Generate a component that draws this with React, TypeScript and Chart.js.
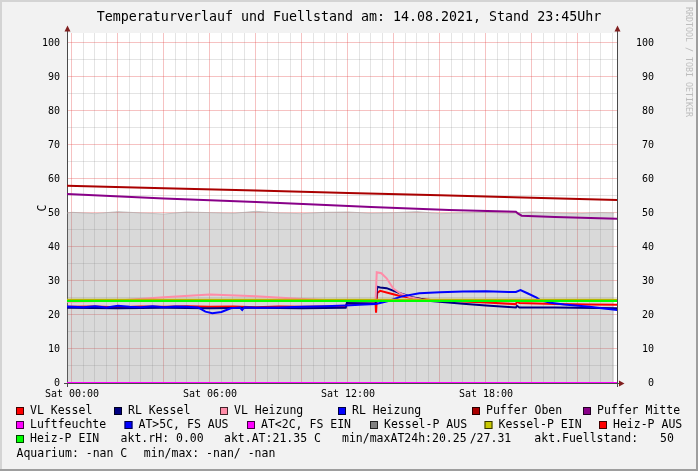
import React, { useEffect, useRef } from 'react';
import { Chart, registerables } from 'chart.js';

Chart.register(...registerables);

// ---------- texts ----------
const TITLE = 'Temperaturverlauf und Fuellstand am: 14.08.2021, Stand 23:45Uhr';
const Y_TITLE = 'C';
const WATERMARK = 'RRDTOOL / TOBI OETIKER';

// ---------- axes ----------
const X_MIN = -0.217; // hours relative to Sat 00:00
const X_MAX = 23.696;
const Y_MIN = 0;
const Y_MAX = 102.94;
const xLabelHours = [0, 6, 12, 18];
const xLabelTexts = ['Sat 00:00', 'Sat 06:00', 'Sat 12:00', 'Sat 18:00'];
const yLabelValues = [0, 10, 20, 30, 40, 50, 60, 70, 80, 90, 100];

// ---------- series (hour, value) ----------
const fuellT = [-0.22, 0, 1, 2, 3, 4, 5, 6, 7, 8, 9, 10, 11, 12, 13, 14, 15, 16, 17, 18, 19, 20, 21, 22, 23, 23.57];
const fuellV = [50.0, 50.2, 49.8, 50.4, 50.0, 49.7, 50.3, 50.1, 49.9, 50.5, 50.0, 49.8, 50.2, 50.3, 49.9, 50.1, 50.4, 49.8, 50.0, 50.2, 49.9, 50.3, 50.0, 49.8, 50.1, 50.0];

const vlKesselT = [-0.22, 1, 2, 3, 4, 5, 6, 7, 8, 9, 10, 11, 11.9, 11.95, 13.2, 13.22, 13.27, 13.4, 13.8, 14.26, 14.8, 15.6, 17, 18, 19.3, 19.35, 19.45, 21, 22.5, 23.7];
const vlKesselV = [22.4, 22.5, 22.3, 22.5, 22.4, 22.6, 22.4, 22.5, 22.3, 22.5, 22.4, 22.5, 22.4, 23.3, 23.3, 20.7, 26.5, 27.1, 26.4, 25.6, 25.0, 24.4, 24.0, 23.7, 23.2, 24.0, 23.5, 23.2, 23.1, 23.0];

const rlKesselT = [-0.22, 2, 4, 6, 8, 10, 11.9, 11.95, 13.2, 13.27, 13.4, 13.68, 14.26, 14.8, 15.6, 17, 18, 19.3, 19.35, 19.45, 21, 23.7];
const rlKesselV = [22.1, 22.0, 22.1, 22.0, 22.1, 22.0, 22.1, 23.5, 23.4, 28.3, 28.1, 27.9, 26.4, 25.2, 24.1, 23.3, 22.8, 22.2, 22.7, 22.2, 22.2, 22.0];

const vlHeizT = [-0.22, 2, 4, 6, 8, 10, 11.5, 13.2, 13.25, 13.45, 13.68, 13.97, 14.26, 14.7, 15.2, 17, 20, 23.7];
const vlHeizV = [23.9, 24.3, 25.2, 26.0, 25.5, 24.7, 24.3, 24.3, 32.6, 32.3, 30.8, 27.8, 26.4, 25.2, 24.5, 24.3, 24.2, 24.1];

const rlHeizT = [-0.22, 0.5, 1, 1.5, 2, 2.5, 3, 3.5, 4, 4.5, 5, 5.5, 5.8, 6.1, 6.5, 6.9, 7.3, 7.4, 7.5, 8, 9, 10, 11, 11.9, 12.5, 13.2, 13.3, 13.8, 14.3, 15.1, 16, 17, 18, 19, 19.3, 19.5, 19.8, 20.2, 20.35, 20.8, 21.4, 22.5, 23.7];
const rlHeizV = [22.5, 22.3, 22.6, 22.2, 22.7, 22.4, 22.3, 22.6, 22.3, 22.5, 22.4, 22.2, 21.0, 20.5, 20.9, 22.0, 22.2, 21.5, 22.3, 22.1, 22.2, 22.4, 22.6, 22.8, 23.0, 23.2, 23.4, 24.2, 25.4, 26.4, 26.7, 26.9, 27.0, 26.8, 26.8, 27.3, 26.4, 25.1, 24.4, 23.6, 23.1, 22.4, 21.5];

const pufferObenT = [-0.22, 4, 8, 12, 16, 20, 23.7];
const pufferObenV = [58.0, 57.3, 56.6, 55.9, 55.2, 54.5, 53.8];

const pufferMitteT = [-0.22, 4, 8, 10.3, 13, 16.4, 19.3, 19.4, 19.55, 21, 23.7];
const pufferMitteV = [55.6, 54.3, 53.2, 52.6, 51.8, 50.9, 50.4, 49.8, 49.2, 48.8, 48.3];

const luftT = [-0.22, 23.7];
const luftV = [0, 0];

const kesselPEinT = [-0.22, 23.7];
const kesselPEinV = [24.5, 24.5];

const heizPEinT = [-0.22, 23.7];
const heizPEinV = [24.1, 24.1];

// ---------- legend ----------
const legendNames = [
  'VL Kessel', 'RL Kessel', 'VL Heizung', 'RL Heizung', 'Puffer Oben', 'Puffer Mitte',
  'Luftfeuchte', 'AT>5C, FS AUS', 'AT<2C, FS EIN', 'Kessel-P AUS', 'Kessel-P EIN', 'Heiz-P AUS',
  'Heiz-P EIN',
];
const legendColors = [
  '#ff0000', '#000080', '#ff8ca8', '#0000ff', '#aa0000', '#880088',
  '#ff00ff', '#0000ff', '#ff00ff', '#808080', '#c8c800', '#ff0000',
  '#00ff00',
];
const statusTexts = ['akt.rH: 0.00', 'akt.AT:21.35 C', 'min/maxAT24h:20.25', '/27.31', 'akt.Fuellstand:', '50'];
const aquariumTexts = ['Aquarium: -nan C', 'min/max: -nan/ -nan'];

const FONT = '"DejaVu Sans Mono", monospace';

const pts = (t: number[], v: number[]) => t.map((x, i) => ({ x, y: v[i] }));

const App = () => {
  const ref = useRef<HTMLCanvasElement | null>(null);

  useEffect(() => {
    const canvas = ref.current;
    if (!canvas) return;

    const xGrid: number[] = [];
    for (let h = 0; h <= 23.5; h += 0.5) xGrid.push(h);
    const yGrid: number[] = [];
    for (let v = 0; v <= 100; v += 5) yGrid.push(v);

    const MAJOR = 'rgba(228,70,70,0.33)';
    const MINOR = 'rgba(130,130,130,0.22)';

    const line = (label: string, t: number[], v: number[], color: string, order: number, width = 2) => ({
      label,
      data: pts(t, v),
      borderColor: color,
      backgroundColor: color,
      borderWidth: width,
      pointRadius: 0,
      tension: 0,
      fill: false,
      order,
    });

    const datasets: any[] = [
      {
        label: 'Fuellstand',
        data: pts(fuellT, fuellV),
        borderColor: 'rgba(175,175,175,0.7)',
        backgroundColor: 'rgba(128,128,128,0.3)',
        borderWidth: 1,
        pointRadius: 0,
        tension: 0,
        fill: 'origin',
        order: 20,
      },
      line('VL Kessel', vlKesselT, vlKesselV, legendColors[0], 19),
      line('RL Kessel', rlKesselT, rlKesselV, legendColors[1], 18),
      line('VL Heizung', vlHeizT, vlHeizV, legendColors[2], 17),
      line('RL Heizung', rlHeizT, rlHeizV, legendColors[3], 16),
      line('Puffer Oben', pufferObenT, pufferObenV, legendColors[4], 15),
      line('Puffer Mitte', pufferMitteT, pufferMitteV, legendColors[5], 14),
      line('Luftfeuchte', luftT, luftV, legendColors[6], 13),
      line('Kessel-P EIN', kesselPEinT, kesselPEinV, '#b4b400', 12),
      line('Heiz-P EIN', heizPEinT, heizPEinV, legendColors[12], 11),
    ];

    const decor = {
      id: 'rrdDecor',
      beforeDraw(chart: any) {
        const { ctx, chartArea: a, width, height } = chart;
        ctx.save();
        ctx.fillStyle = '#f2f2f2';
        ctx.fillRect(0, 0, width, height);
        ctx.fillStyle = '#d4d4d4';
        ctx.fillRect(0, 0, width, 2);
        ctx.fillRect(0, 0, 2, height);
        ctx.fillStyle = '#9e9e9e';
        ctx.fillRect(0, height - 2, width, 2);
        ctx.fillRect(width - 2, 0, 2, height);
        ctx.fillStyle = '#ffffff';
        ctx.fillRect(a.left, a.top, a.right - a.left, a.bottom - a.top);
        ctx.restore();
      },
      beforeDatasetsDraw(chart: any) {
        const { ctx, chartArea: a } = chart;
        ctx.save();
        ctx.strokeStyle = '#4a4a4a';
        ctx.lineWidth = 1;
        ctx.beginPath();
        ctx.moveTo(a.left + 0.5, a.bottom + 4);
        ctx.lineTo(a.left + 0.5, a.top - 4);
        ctx.moveTo(a.right + 0.5, a.bottom + 4);
        ctx.lineTo(a.right + 0.5, a.top - 4);
        ctx.moveTo(a.left - 3, a.bottom + 0.5);
        ctx.lineTo(a.right + 3, a.bottom + 0.5);
        ctx.stroke();
        ctx.restore();
      },
      afterDraw(chart: any) {
        const { ctx, chartArea: a, width } = chart;
        ctx.save();
        ctx.fillStyle = '#801f1f';
        const up = (x: number) => {
          ctx.beginPath();
          ctx.moveTo(x, a.top - 7.5);
          ctx.lineTo(x - 3, a.top - 1.5);
          ctx.lineTo(x + 3, a.top - 1.5);
          ctx.closePath();
          ctx.fill();
        };
        up(a.left + 0.5);
        up(a.right + 0.5);
        ctx.beginPath();
        ctx.moveTo(a.right + 7.5, a.bottom + 0.5);
        ctx.lineTo(a.right + 2, a.bottom - 2.5);
        ctx.lineTo(a.right + 2, a.bottom + 3.5);
        ctx.closePath();
        ctx.fill();

        // title
        ctx.fillStyle = '#000';
        ctx.textBaseline = 'middle';
        ctx.textAlign = 'center';
        ctx.font = `13.3px ${FONT}`;
        ctx.fillText(TITLE, width / 2, 17.5);

        // y title
        ctx.save();
        ctx.translate(43, (a.top + a.bottom) / 2);
        ctx.rotate(-Math.PI / 2);
        ctx.font = `11.5px ${FONT}`;
        ctx.fillText(Y_TITLE, 0, 0);
        ctx.restore();

        // watermark
        ctx.save();
        ctx.translate(688.5, 7);
        ctx.rotate(Math.PI / 2);
        ctx.textAlign = 'left';
        ctx.fillStyle = '#bdbdbd';
        ctx.font = `8.3px ${FONT}`;
        ctx.fillText(WATERMARK, 0, 0);
        ctx.restore();

        // legend
        ctx.font = `11.5px ${FONT}`;
        ctx.textAlign = 'left';
        const rows = [411, 425, 439, 453.5];
        const boxX = [
          16, 114, 220, 338, 472, 583,
          16, 124.5, 247, 370, 484.5, 599,
          16,
        ];
        legendNames.forEach((name, i) => {
          const row = i < 6 ? 0 : i < 12 ? 1 : 2;
          const y = rows[row];
          const x = boxX[i];
          ctx.fillStyle = legendColors[i];
          ctx.fillRect(x, y - 4, 8, 8);
          ctx.strokeStyle = 'rgba(0,0,0,0.75)';
          ctx.lineWidth = 1;
          ctx.strokeRect(x + 0.5, y - 3.5, 7, 7);
          ctx.fillStyle = '#000';
          ctx.fillText(name, x + 14, y + 0.5);
        });
        const statusX = [120.6, 224, 342, 469.7, 534.3, 660];
        statusTexts.forEach((t, i) => ctx.fillText(t, statusX[i], rows[2] + 0.5));
        const aqX = [16.5, 143.8];
        aquariumTexts.forEach((t, i) => ctx.fillText(t, aqX[i], rows[3] + 0.5));
        ctx.restore();
      },
    };

    const chart = new Chart(canvas, {
      type: 'line',
      data: { datasets },
      plugins: [decor],
      options: {
        responsive: false,
        animation: false,
        events: [],
        layout: { padding: { top: 33, left: 0, right: 44, bottom: 0 } },
        plugins: {
          legend: { display: false },
          title: { display: false },
          tooltip: { enabled: false },
        },
        scales: {
          x: {
            type: 'linear',
            position: 'bottom',
            min: X_MIN,
            max: X_MAX,
            afterBuildTicks: (s: any) => {
              s.ticks = xGrid.map((value) => ({ value }));
            },
            afterFit: (s: any) => {
              s.height = 88;
            },
            border: { display: false },
            grid: {
              drawTicks: false,
              lineWidth: 1,
              color: (c: any) => {
                const v = c?.tick?.value;
                if (v === undefined) return 'transparent';
                return Math.abs(v / 2 - Math.round(v / 2)) < 1e-6 ? MAJOR : MINOR;
              },
            },
            ticks: {
              autoSkip: false,
              maxRotation: 0,
              minRotation: 0,
              padding: 5,
              color: '#000',
              font: { family: FONT, size: 10 },
              callback: (value: any) => {
                const i = xLabelHours.findIndex((h) => Math.abs(h - Number(value)) < 1e-6);
                return i >= 0 ? xLabelTexts[i] : '';
              },
            },
          },
          y: {
            type: 'linear',
            position: 'left',
            min: Y_MIN,
            max: Y_MAX,
            afterBuildTicks: (s: any) => {
              s.ticks = yGrid.map((value) => ({ value }));
            },
            afterFit: (s: any) => {
              s.width = 67;
            },
            border: { display: false },
            grid: {
              drawTicks: false,
              lineWidth: 1,
              color: (c: any) => {
                const v = c?.tick?.value;
                if (v === undefined) return 'transparent';
                return yLabelValues.includes(v) ? MAJOR : MINOR;
              },
            },
            ticks: {
              autoSkip: false,
              padding: 7,
              color: '#000',
              font: { family: FONT, size: 10 },
              callback: (value: any) => (yLabelValues.includes(Number(value)) ? String(value) : ''),
            },
          },
          y2: {
            type: 'linear',
            position: 'right',
            min: Y_MIN,
            max: Y_MAX,
            afterBuildTicks: (s: any) => {
              s.ticks = yLabelValues.map((value) => ({ value }));
            },
            afterFit: (s: any) => {
              s.width = 37;
            },
            border: { display: false },
            grid: { display: false, drawTicks: false },
            ticks: {
              autoSkip: false,
              padding: 10,
              crossAlign: 'far',
              color: '#000',
              font: { family: FONT, size: 10 },
              callback: (value: any) => String(value),
            },
          },
        },
      } as any,
    });

    return () => chart.destroy();
  }, []);

  return (
    <div style={{ position: 'absolute', left: 0, top: 0, width: 698, height: 471 }}>
      <canvas ref={ref} width={698} height={471} style={{ display: 'block', width: 698, height: 471 }} />
    </div>
  );
};

export default App;
